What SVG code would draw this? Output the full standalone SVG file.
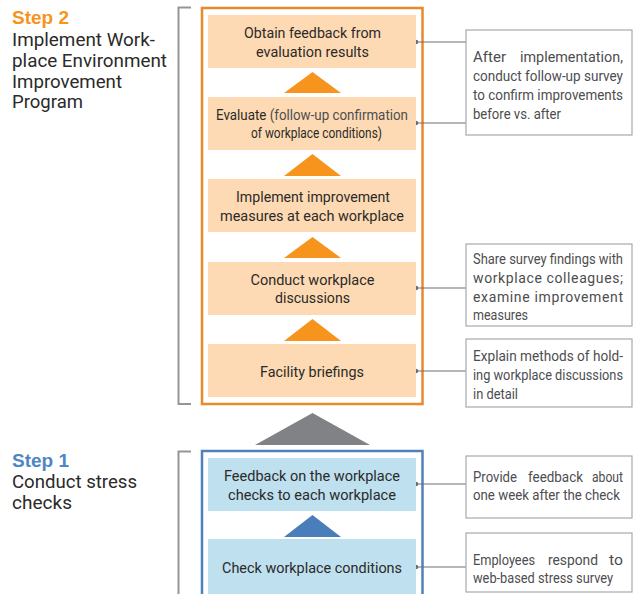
<svg xmlns="http://www.w3.org/2000/svg" width="636" height="594" viewBox="0 0 636 594">
<style>
.node{font-family:Roboto,"Liberation Sans",sans-serif;font-size:14.5px;fill:#2b2a29;text-anchor:middle}
.call{font-family:Roboto,"Liberation Sans",sans-serif;font-size:14px;fill:#4d4d4f}
.head{font-family:Roboto,"Liberation Sans",sans-serif;font-size:18px;fill:#2b2a29}
.step{font-family:"Liberation Sans",Arial,sans-serif;font-size:19px;font-weight:bold}
.obox{fill:#FDDAB3}
.bbox{fill:#BEE0EF}
.cbox{fill:#fff;stroke:#A7A9AC;stroke-width:1.2}
.brk{fill:none;stroke:#939598;stroke-width:2}
.lead{stroke:#6D6E71;stroke-width:1.2;fill:none}
.dot{fill:#6D6E71}
</style>
<rect width="636" height="594" fill="#fff"/>
<g id="labels">
<text class="step" x="12" y="24" fill="#F7941D">Step 2</text>
<text class="head" x="12" y="46" textLength="143" lengthAdjust="spacingAndGlyphs">Implement Work-</text>
<text class="head" x="12" y="67" textLength="155" lengthAdjust="spacingAndGlyphs">place Environment</text>
<text class="head" x="12" y="88" textLength="110" lengthAdjust="spacingAndGlyphs">Improvement</text>
<text class="head" x="12" y="108" textLength="71" lengthAdjust="spacingAndGlyphs">Program</text>
<text class="step" x="12" y="467" fill="#4F86C6">Step 1</text>
<text class="head" x="12" y="488" textLength="125" lengthAdjust="spacingAndGlyphs">Conduct stress</text>
<text class="head" x="12" y="509" textLength="60" lengthAdjust="spacingAndGlyphs">checks</text>
</g>
<g id="brackets">
<path class="brk" d="M191 7.5H178.5V404H191"/>
<path class="brk" d="M191 451.5H178.5V600"/>
</g>
<g id="frames">
<rect x="202" y="8" width="220.5" height="396" fill="none" stroke="#E8892B" stroke-width="2.5"/>
<rect x="202" y="451" width="220.5" height="160" fill="none" stroke="#4F81BD" stroke-width="2.5"/>
</g>
<g id="connectors">
<polygon points="312.5,72 341,93 284,93" fill="#F7941D"/>
<polygon points="312.5,154 341,176 284,176" fill="#F7941D"/>
<polygon points="312.5,237 341,258 284,258" fill="#F7941D"/>
<polygon points="312.5,319 341,341 284,341" fill="#F7941D"/>
<polygon points="312.5,413 370,445 255,445" fill="#808285"/>
<polygon points="312.5,515 341,537 284,537" fill="#4A7EBB"/>
<path class="lead" d="M416 42H466M416 123H466M416 288H466M416 371H466M416 484H466M416 567H466"/>
<circle class="dot" cx="416" cy="42" r="2.3"/>
<circle class="dot" cx="416" cy="123" r="2.3"/>
<circle class="dot" cx="416" cy="288" r="2.3"/>
<circle class="dot" cx="416" cy="371" r="2.3"/>
<circle class="dot" cx="416" cy="484" r="2.3"/>
<circle class="dot" cx="416" cy="567" r="2.3"/>
</g>
<g id="n1">
<rect class="obox" x="208" y="15" width="208" height="53"/>
<text class="node" x="312.5" y="38" textLength="137" lengthAdjust="spacingAndGlyphs">Obtain feedback from</text>
<text class="node" x="312.5" y="57" textLength="113" lengthAdjust="spacingAndGlyphs">evaluation results</text>
</g>
<g id="n2">
<rect class="obox" x="208" y="97" width="208" height="53"/>
<text class="node" x="312" y="120" textLength="192" lengthAdjust="spacingAndGlyphs">Evaluate<tspan fill="#4d4d4f"> (follow-up confirmation</tspan></text>
<text class="node" x="316.5" y="138" fill="#4d4d4f" textLength="131" lengthAdjust="spacingAndGlyphs">of workplace conditions)</text>
</g>
<g id="n3">
<rect class="obox" x="208" y="179" width="208" height="53"/>
<text class="node" x="313" y="202" textLength="154" lengthAdjust="spacingAndGlyphs">Implement improvement</text>
<text class="node" x="312" y="221" textLength="184" lengthAdjust="spacingAndGlyphs">measures at each workplace</text>
</g>
<g id="n4">
<rect class="obox" x="208" y="262" width="208" height="53"/>
<text class="node" x="312.5" y="285" textLength="124" lengthAdjust="spacingAndGlyphs">Conduct workplace</text>
<text class="node" x="312.5" y="303" textLength="75" lengthAdjust="spacingAndGlyphs">discussions</text>
</g>
<g id="n5">
<rect class="obox" x="208" y="344" width="208" height="53"/>
<text class="node" x="312" y="377" textLength="104" lengthAdjust="spacingAndGlyphs">Facility briefings</text>
</g>
<g id="n6">
<rect class="bbox" x="208" y="458" width="208" height="53"/>
<text class="node" x="312" y="481" textLength="176" lengthAdjust="spacingAndGlyphs">Feedback on the workplace</text>
<text class="node" x="312" y="500" textLength="168" lengthAdjust="spacingAndGlyphs">checks to each workplace</text>
</g>
<g id="n7">
<rect class="bbox" x="208" y="539" width="208" height="60"/>
<text class="node" x="312" y="573" textLength="180" lengthAdjust="spacingAndGlyphs">Check workplace conditions</text>
</g>
<g id="c1">
<rect class="cbox" x="466" y="30" width="166" height="105"/>
<text class="call" x="473" y="62" textLength="33" lengthAdjust="spacingAndGlyphs">After</text>
<text class="call" x="623" y="62" text-anchor="end" textLength="103" lengthAdjust="spacingAndGlyphs">implementation,</text>
<text class="call" x="473" y="81" textLength="150" lengthAdjust="spacingAndGlyphs">conduct follow-up survey</text>
<text class="call" x="473" y="100" textLength="150" lengthAdjust="spacingAndGlyphs">to confirm improvements</text>
<text class="call" x="473" y="119" textLength="88" lengthAdjust="spacingAndGlyphs">before vs. after</text>
</g>
<g id="c2">
<rect class="cbox" x="466" y="244" width="166" height="82"/>
<text class="call" x="473" y="264" textLength="150" lengthAdjust="spacingAndGlyphs">Share survey findings with</text>
<text class="call" x="473" y="283" textLength="150" lengthAdjust="spacing">workplace colleagues;</text>
<text class="call" x="473" y="302" textLength="150" lengthAdjust="spacing">examine improvement</text>
<text class="call" x="473" y="320" textLength="55" lengthAdjust="spacingAndGlyphs">measures</text>
</g>
<g id="c3">
<rect class="cbox" x="466" y="339" width="166" height="68"/>
<text class="call" x="473" y="361" textLength="150" lengthAdjust="spacingAndGlyphs">Explain methods of hold-</text>
<text class="call" x="473" y="380" textLength="150" lengthAdjust="spacingAndGlyphs">ing workplace discussions</text>
<text class="call" x="473" y="399" textLength="45" lengthAdjust="spacingAndGlyphs">in detail</text>
</g>
<g id="c4">
<rect class="cbox" x="466" y="456" width="166" height="62"/>
<text class="call" x="473" y="482" textLength="44" lengthAdjust="spacingAndGlyphs">Provide</text>
<text class="call" x="528" y="482" textLength="55" lengthAdjust="spacingAndGlyphs">feedback</text>
<text class="call" x="623" y="482" text-anchor="end" textLength="31" lengthAdjust="spacingAndGlyphs">about</text>
<text class="call" x="473" y="500" textLength="147" lengthAdjust="spacingAndGlyphs">one week after the check</text>
</g>
<g id="c5">
<rect class="cbox" x="466" y="533" width="166" height="59"/>
<text class="call" x="473" y="565" textLength="62" lengthAdjust="spacingAndGlyphs">Employees</text>
<text class="call" x="548" y="565" textLength="50" lengthAdjust="spacingAndGlyphs">respond</text>
<text class="call" x="623" y="565" text-anchor="end" textLength="14" lengthAdjust="spacingAndGlyphs">to</text>
<text class="call" x="473" y="583" textLength="140" lengthAdjust="spacingAndGlyphs">web-based stress survey</text>
</g>
</svg>
